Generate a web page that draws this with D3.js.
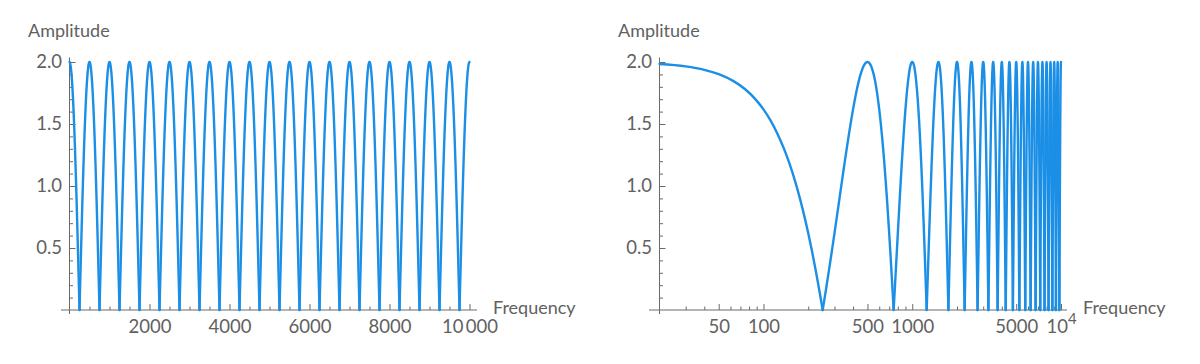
<!DOCTYPE html>
<html>
<head>
<meta charset="utf-8">
<script src="https://cdn.jsdelivr.net/npm/d3@7"></script>
<style>
  body { margin: 0; background: #fff; }
  text { font-family: Lato, "Open Sans", sans-serif; fill: #616161; }
</style>
</head>
<body>
<div id="chart"></div>
<script>
// comb filter response: peaks of 2.0 every 500 Hz, notches between them
const peakFreqs = [0, 500, 1000, 1500, 2000, 2500, 3000, 3500, 4000, 4500, 5000,
  5500, 6000, 6500, 7000, 7500, 8000, 8500, 9000, 9500, 10000];
const notchFreqs = [250, 750, 1250, 1750, 2250, 2750, 3250, 3750, 4250, 4750,
  5250, 5750, 6250, 6750, 7250, 7750, 8250, 8750, 9250, 9750];
// shape of one half lobe, peak (t=0) to notch (t=1)
const halfLobeT = [0, 0.04, 0.08, 0.12, 0.16, 0.2, 0.25, 0.3, 0.35, 0.4, 0.45, 0.5,
  0.55, 0.6, 0.65, 0.7, 0.75, 0.8, 0.85, 0.9, 0.95, 1];
const halfLobeAmp = [2.0, 1.996, 1.984, 1.965, 1.937, 1.902, 1.848, 1.782, 1.705, 1.618, 1.521, 1.414,
  1.299, 1.176, 1.045, 0.908, 0.765, 0.618, 0.467, 0.313, 0.157, 0];

const yTicks = [0.5, 1.0, 1.5, 2.0];
const yMinor = [0.1, 0.2, 0.3, 0.4, 0.6, 0.7, 0.8, 0.9, 1.1, 1.2, 1.3, 1.4, 1.6, 1.7, 1.8, 1.9];
const linTicks = [2000, 4000, 6000, 8000, 10000];
const linLabels = ["2000", "4000", "6000", "8000", "10\u2009000"];
const linMinor = [500, 1000, 1500, 2500, 3000, 3500, 4500, 5000, 5500, 6500, 7000, 7500,
  8500, 9000, 9500];
const logTicks = [50, 100, 500, 1000, 5000, 10000];
const logLabels = ["50", "100", "500", "1000", "5000", "10^4"];
const logMinor = [30, 40, 60, 70, 80, 90, 200, 300, 400, 600, 700, 800, 900,
  2000, 3000, 4000, 6000, 7000, 8000, 9000];

const W = 1200, H = 364;
const blue = "#1b8fe6", axisColor = "#6a6a6a";
const labelSize = 18.5, titleSize = 18;

const svg = d3.select("#chart").append("svg")
  .attr("width", W).attr("height", H);

const y = d3.scaleLinear().domain([0, 2]).range([310, 62]);

// lobes: each runs notch -> peak -> notch so the peaks stay smooth and the notches sharp
function buildLobes() {
  const lobes = [];
  for (let k = 0; k < peakFreqs.length; k++) {
    const p = peakFreqs[k];
    const pts = [];
    if (k > 0) {
      const a = notchFreqs[k - 1];
      for (let i = halfLobeT.length - 1; i > 0; i--)
        pts.push({ f: p + halfLobeT[i] * (a - p), amp: halfLobeAmp[i] });
    }
    pts.push({ f: p, amp: halfLobeAmp[0] });
    if (k < notchFreqs.length) {
      const b = notchFreqs[k];
      for (let i = 1; i < halfLobeT.length; i++)
        pts.push({ f: p + halfLobeT[i] * (b - p), amp: halfLobeAmp[i] });
    }
    lobes.push(pts);
  }
  return lobes;
}
const lobes = buildLobes();

function drawPanel(x, opts) {
  const g = svg.append("g");
  const [x0, x1] = x.range();

  // axis lines (Mathematica pads them a little past the data)
  g.append("line").attr("x1", x0 - opts.padL).attr("x2", x1 + opts.padR)
    .attr("y1", y(0)).attr("y2", y(0)).attr("stroke", axisColor);
  g.append("line").attr("x1", x0).attr("x2", x0)
    .attr("y1", y(0) + 4).attr("y2", y(2) - 4.5).attr("stroke", axisColor);

  // x ticks
  const xMinorAxis = d3.axisBottom(x).tickValues(opts.minor).tickSize(-3.5).tickFormat("");
  g.append("g").attr("transform", `translate(0,${y(0)})`).call(xMinorAxis);
  const xAxis = d3.axisBottom(x).tickValues(opts.ticks).tickSize(-6).tickPadding(10)
    .tickFormat((d, i) => opts.labels[i]);
  const gx = g.append("g").attr("transform", `translate(0,${y(0)})`).call(xAxis);

  // y ticks
  const yMinorAxis = d3.axisLeft(y).tickValues(yMinor).tickSize(-3.5).tickFormat("");
  g.append("g").attr("transform", `translate(${x0},0)`).call(yMinorAxis);
  const yAxis = d3.axisLeft(y).tickValues(yTicks).tickSize(-6).tickPadding(7.5)
    .tickFormat(d3.format(".1f"));
  g.append("g").attr("transform", `translate(${x0},0)`).call(yAxis);

  g.selectAll(".domain").remove();
  g.selectAll(".tick line").attr("stroke", axisColor);
  g.selectAll(".tick text").attr("font-size", labelSize).attr("fill", "#616161")
    .attr("font-family", "Lato, 'Open Sans', sans-serif");

  // superscript label 10^4
  gx.selectAll(".tick text").filter(d => opts.labels[opts.ticks.indexOf(d)] === "10^4")
    .text(null)
    .call(t => {
      t.append("tspan").text("10");
      t.append("tspan").text("4").attr("font-size", 15).attr("dy", "-0.6em");
    });

  // curve
  const line = d3.line()
    .x(d => x(d.f)).y(d => y(d.amp))
    .curve(d3.curveMonotoneX);
  g.append("g").selectAll("path")
    .data(lobes.map(l => l.filter(d => d.f >= x.domain()[0])).filter(l => l.length > 1))
    .join("path")
    .attr("d", line)
    .attr("fill", "none")
    .attr("stroke", blue)
    .attr("stroke-width", 2.4)
    .attr("stroke-linecap", "round")
    .attr("stroke-linejoin", "round");

  // axis titles
  g.append("text").attr("x", opts.ampX).attr("y", 37)
    .attr("font-size", titleSize).text("Amplitude");
  g.append("text").attr("x", opts.freqX).attr("y", 308).attr("dy", "0.35em")
    .attr("font-size", titleSize).text("Frequency");
}

const xLin = d3.scaleLinear().domain([0, 10000]).range([69.5, 469.5]);
drawPanel(xLin, { ticks: linTicks, labels: linLabels, minor: linMinor,
  padL: 8.5, padR: 7.5, ampX: 28, freqX: 493 });

const xLog = d3.scaleLog().domain([20, 10000]).range([659.5, 1061]);
drawPanel(xLog, { ticks: logTicks, labels: logLabels, minor: logMinor,
  padL: 10.5, padR: 6, ampX: 618, freqX: 1083 });
</script>
</body>
</html>
